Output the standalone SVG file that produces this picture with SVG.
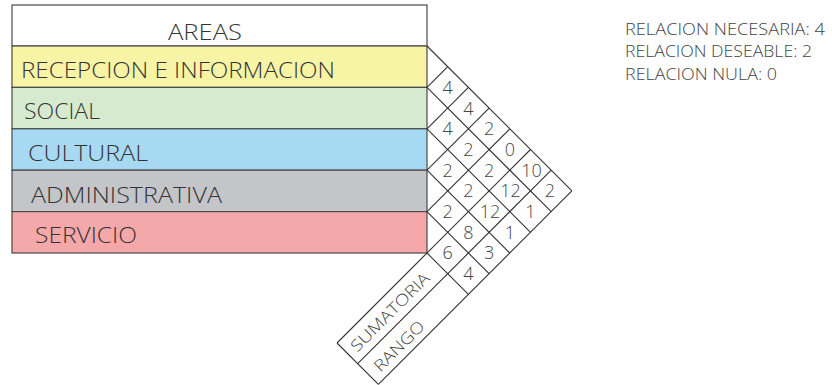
<svg xmlns="http://www.w3.org/2000/svg" width="832" height="385" viewBox="0 0 832 385">
<style>
.cell{stroke:#4a4a4a;stroke-width:1.2}
.lbl{font-family:"Open Sans","Liberation Sans",sans-serif;font-weight:300;font-size:22px;fill:#333}
.num{font-family:"Open Sans","Liberation Sans",sans-serif;font-weight:300;font-size:18px;fill:#444;text-anchor:middle}
.leg{font-family:"Open Sans","Liberation Sans",sans-serif;font-weight:300;font-size:16px;fill:#444}
.grid line{stroke:#333;stroke-width:1.1;fill:none}
</style>
<rect width="832" height="385" fill="#fff"/>
<g id="areas">
<rect class="cell" x="12" y="5" width="415" height="41" fill="#ffffff"/>
<text class="lbl" x="205" y="40" text-anchor="middle" textLength="74" lengthAdjust="spacingAndGlyphs">AREAS</text>
</g>
<g id="recepcion">
<rect class="cell" x="12" y="46" width="415" height="41.4" fill="#f8f4a6"/>
<text class="lbl" x="21" y="78" textLength="314" lengthAdjust="spacingAndGlyphs">RECEPCION E INFORMACION</text>
</g>
<g id="social">
<rect class="cell" x="12" y="87.4" width="415" height="41.4" fill="#d6eacf"/>
<text class="lbl" x="24" y="119" textLength="76" lengthAdjust="spacingAndGlyphs">SOCIAL</text>
</g>
<g id="cultural">
<rect class="cell" x="12" y="128.8" width="415" height="41.4" fill="#a8d9f2"/>
<text class="lbl" x="28" y="161" textLength="120" lengthAdjust="spacingAndGlyphs">CULTURAL</text>
</g>
<g id="administrativa">
<rect class="cell" x="12" y="170.2" width="415" height="41.4" fill="#c4c5c8"/>
<text class="lbl" x="31" y="203" textLength="191" lengthAdjust="spacingAndGlyphs">ADMINISTRATIVA</text>
</g>
<g id="servicio">
<rect class="cell" x="12" y="211.6" width="415" height="41.4" fill="#f4a8aa"/>
<text class="lbl" x="35" y="243" textLength="102" lengthAdjust="spacingAndGlyphs">SERVICIO</text>
</g>
<g id="connectors" class="grid">
<line x1="427" y1="46" x2="571.9" y2="190.9"/>
<line x1="427" y1="87.4" x2="551.2" y2="211.6"/>
<line x1="427" y1="128.8" x2="530.5" y2="232.3"/>
<line x1="427" y1="170.2" x2="509.8" y2="253"/>
<line x1="427" y1="211.6" x2="489.1" y2="273.7"/>
<line x1="427" y1="253" x2="468.4" y2="294.4"/>
<line x1="427" y1="87.4" x2="447.7" y2="66.7"/>
<line x1="427" y1="128.8" x2="468.4" y2="87.4"/>
<line x1="427" y1="170.2" x2="489.1" y2="108.1"/>
<line x1="427" y1="211.6" x2="509.8" y2="128.8"/>
<line x1="337" y1="343" x2="530.5" y2="149.5"/>
<line x1="357.7" y1="363.7" x2="551.2" y2="170.2"/>
<line x1="378.4" y1="384.4" x2="571.9" y2="190.9"/>
<line x1="337" y1="343" x2="378.4" y2="384.4"/>
</g>
<g id="values">
<text class="num" x="447.7" y="87.4" dy="0.36em">4</text>
<text class="num" x="447.7" y="128.8" dy="0.36em">4</text>
<text class="num" x="447.7" y="170.2" dy="0.36em">2</text>
<text class="num" x="447.7" y="211.6" dy="0.36em">2</text>
<text class="num" x="447.7" y="253" dy="0.36em">6</text>
<text class="num" x="468.4" y="108.1" dy="0.36em">4</text>
<text class="num" x="468.4" y="149.5" dy="0.36em">2</text>
<text class="num" x="468.4" y="190.9" dy="0.36em">2</text>
<text class="num" x="468.4" y="232.3" dy="0.36em">8</text>
<text class="num" x="468.4" y="273.7" dy="0.36em">4</text>
<text class="num" x="489.1" y="128.8" dy="0.36em">2</text>
<text class="num" x="489.1" y="170.2" dy="0.36em">2</text>
<text class="num" x="490" y="211.6" dy="0.36em">12</text>
<text class="num" x="489.1" y="253" dy="0.36em">3</text>
<text class="num" x="509.8" y="149.5" dy="0.36em">0</text>
<text class="num" x="510.5" y="190.9" dy="0.36em">12</text>
<text class="num" x="509.8" y="232.3" dy="0.36em">1</text>
<text class="num" x="531.5" y="170.2" dy="0.36em">10</text>
<text class="num" x="530.5" y="211.6" dy="0.36em">1</text>
<text class="num" x="550" y="190.9" dy="0.36em">2</text>
</g>
<g id="sumatoria">
<text class="num" transform="translate(390,312) rotate(-45)" dy="0.36em" style="font-size:16px" textLength="104" lengthAdjust="spacingAndGlyphs">SUMATORIA</text>
</g>
<g id="rango">
<text class="num" transform="translate(399,346) rotate(-45)" dy="0.36em" style="font-size:16px" textLength="64" lengthAdjust="spacingAndGlyphs">RANGO</text>
</g>
<g id="legend">
<text class="leg" x="625" y="34.5" textLength="200" lengthAdjust="spacingAndGlyphs">RELACION NECESARIA: 4</text>
<text class="leg" x="625" y="57" textLength="187" lengthAdjust="spacingAndGlyphs">RELACION DESEABLE: 2</text>
<text class="leg" x="625" y="80" textLength="152" lengthAdjust="spacingAndGlyphs">RELACION NULA: 0</text>
</g>
</svg>
